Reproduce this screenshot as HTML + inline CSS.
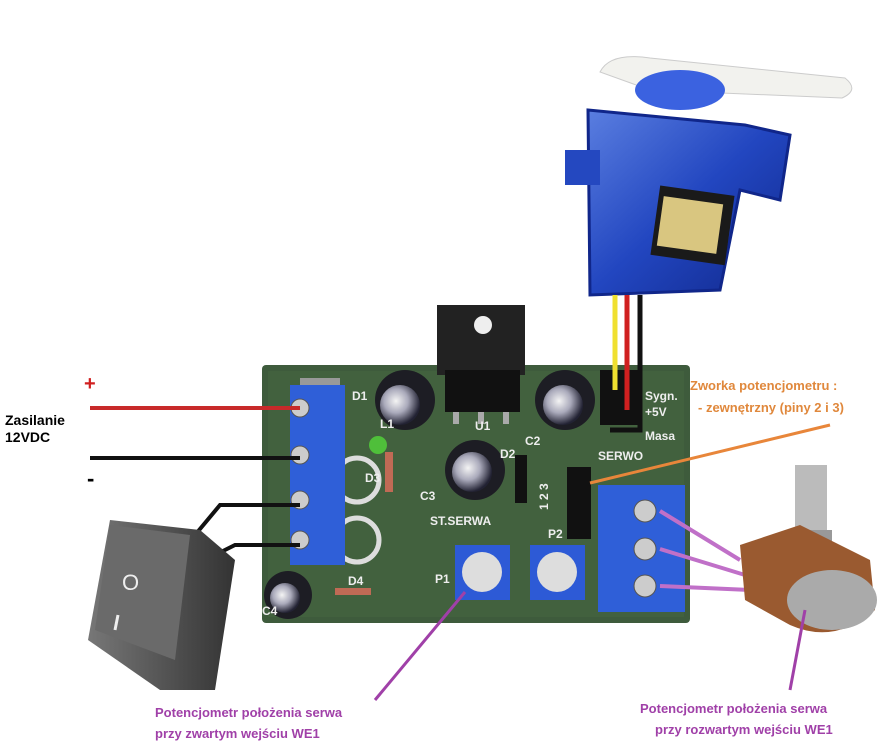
<!DOCTYPE html>
<html><head><meta charset="utf-8"><style>
html,body{margin:0;padding:0;background:#fff;}
body{width:883px;height:755px;overflow:hidden;position:relative;font-family:"Liberation Sans",sans-serif;}
.t{position:absolute;font-weight:bold;white-space:nowrap;}
</style></head><body>
<svg width="883" height="755" style="position:absolute;left:0;top:0">
<defs>
<radialGradient id="cap" cx="40%" cy="40%" r="60%"><stop offset="0" stop-color="#f4f4f4"/><stop offset="0.5" stop-color="#aab"/><stop offset="1" stop-color="#223"/></radialGradient>
<linearGradient id="blue" x1="0" y1="0" x2="1" y2="1"><stop offset="0" stop-color="#5a7ee0"/><stop offset="0.5" stop-color="#2246c0"/><stop offset="1" stop-color="#10278a"/></linearGradient>
<linearGradient id="sw" x1="0" y1="0" x2="1" y2="0"><stop offset="0" stop-color="#777"/><stop offset="0.5" stop-color="#555"/><stop offset="1" stop-color="#333"/></linearGradient>
</defs>
<rect x="262" y="365" width="428" height="258" rx="4" fill="#3e5b3c"/>
<rect x="268" y="371" width="416" height="246" fill="#46653f" opacity="0.6"/>
<rect x="437" y="305" width="88" height="70" fill="#222"/>
<circle cx="483" cy="325" r="9" fill="#eee"/>
<rect x="445" y="370" width="75" height="42" fill="#111"/>
<rect x="453" y="412" width="6" height="12" fill="#aaa"/><rect x="478" y="412" width="6" height="12" fill="#aaa"/><rect x="503" y="412" width="6" height="12" fill="#aaa"/>
<circle cx="405" cy="400" r="30" fill="#1d1d24"/><circle cx="400" cy="405" r="20" fill="url(#cap)"/>
<circle cx="565" cy="400" r="30" fill="#1d1d24"/><circle cx="563" cy="405" r="20" fill="url(#cap)"/>
<circle cx="475" cy="470" r="30" fill="#1d1d24"/><circle cx="472" cy="472" r="20" fill="url(#cap)"/>
<circle cx="288" cy="595" r="24" fill="#1d1d24"/><circle cx="285" cy="598" r="15" fill="url(#cap)"/>
<circle cx="378" cy="445" r="9" fill="#4fbf3a"/>
<rect x="300" y="378" width="40" height="7" fill="#999"/>
<rect x="385" y="452" width="8" height="40" fill="#c06a55"/>
<rect x="515" y="455" width="12" height="48" fill="#111"/>
<rect x="335" y="588" width="36" height="7" fill="#c06a55"/>
<circle cx="357" cy="480" r="22" fill="none" stroke="#ddd" stroke-width="5"/>
<circle cx="357" cy="540" r="22" fill="none" stroke="#ddd" stroke-width="5"/>
<rect x="290" y="385" width="55" height="180" fill="#2f5fd8"/>
<g fill="#ccc" stroke="#555"><circle cx="300" cy="408" r="9"/><circle cx="300" cy="455" r="9"/><circle cx="300" cy="500" r="9"/><circle cx="300" cy="540" r="9"/></g>
<rect x="598" y="485" width="87" height="127" fill="#2f5fd8"/>
<g fill="#ccc" stroke="#555"><circle cx="645" cy="511" r="11"/><circle cx="645" cy="549" r="11"/><circle cx="645" cy="586" r="11"/></g>
<rect x="567" y="467" width="24" height="72" fill="#111"/>
<rect x="600" y="370" width="42" height="55" fill="#111"/>
<rect x="455" y="545" width="55" height="55" fill="#2d5ad6"/><circle cx="482" cy="572" r="20" fill="#ddd"/>
<rect x="530" y="545" width="55" height="55" fill="#2d5ad6"/><circle cx="557" cy="572" r="20" fill="#ddd"/>
<g fill="#eee" font-family="Liberation Sans" font-size="12" font-weight="bold">
<text x="352" y="400">D1</text><text x="380" y="428">L1</text><text x="365" y="482">D3</text><text x="420" y="500">C3</text>
<text x="475" y="430">U1</text><text x="525" y="445">C2</text><text x="500" y="458">D2</text><text x="430" y="525">ST.SERWA</text>
<text x="548" y="538">P2</text><text x="435" y="583">P1</text><text x="348" y="585">D4</text><text x="262" y="615">C4</text>
<text x="645" y="400">Sygn.</text><text x="645" y="416">+5V</text><text x="645" y="440">Masa</text><text x="598" y="460">SERWO</text>
<text x="548" y="510" transform="rotate(-90 548 510)">1 2 3</text>
</g>
<path d="M600 72 Q610 52 650 58 L845 78 Q860 90 842 98 L650 90 Z" fill="#f2f2ee" stroke="#ccc"/>
<ellipse cx="680" cy="90" rx="45" ry="20" fill="#3b62e0"/>
<path d="M588 110 L745 125 L790 135 L780 200 L740 190 L720 290 L590 295 Z" fill="url(#blue)" stroke="#10268a" stroke-width="3"/>
<path d="M565 150 L600 150 L600 185 L565 185 Z" fill="#2448c0"/>
<rect x="655" y="190" width="75" height="70" fill="#1a1a1a" transform="rotate(8 690 225)"/>
<rect x="660" y="200" width="60" height="50" fill="#d9c680" transform="rotate(8 690 225)"/>
<line x1="615" y1="295" x2="615" y2="390" stroke="#f0e030" stroke-width="5"/>
<line x1="627" y1="295" x2="627" y2="410" stroke="#d02020" stroke-width="5"/>
<polyline points="640,295 640,430 610,430" fill="none" stroke="#111" stroke-width="5"/>
<line x1="90" y1="408" x2="300" y2="408" stroke="#c82a2a" stroke-width="4"/>
<line x1="90" y1="458" x2="300" y2="458" stroke="#111" stroke-width="4"/>
<polyline points="195,535 220,505 300,505" fill="none" stroke="#111" stroke-width="4"/>
<polyline points="215,555 235,545 300,545" fill="none" stroke="#111" stroke-width="4"/>
<path d="M110 520 L200 530 L235 560 L215 690 L160 690 L88 640 Z" fill="url(#sw)"/>
<path d="M110 525 L190 535 L175 660 L95 630 Z" fill="#6a6a6a"/>
<text x="122" y="590" fill="#eee" font-size="22" font-family="Liberation Sans">O</text>
<line x1="118" y1="615" x2="115" y2="630" stroke="#eee" stroke-width="3"/>
<line x1="660" y1="511" x2="740" y2="560" stroke="#c070c8" stroke-width="4"/>
<line x1="660" y1="549" x2="745" y2="575" stroke="#c070c8" stroke-width="4"/>
<line x1="660" y1="586" x2="750" y2="590" stroke="#c070c8" stroke-width="4"/>
<rect x="795" y="465" width="32" height="75" fill="#bbb"/>
<rect x="790" y="530" width="42" height="30" fill="#999"/>
<path d="M740 545 L800 525 L870 560 L875 610 Q835 645 790 625 L745 600 Z" fill="#9a5a30"/>
<ellipse cx="832" cy="600" rx="45" ry="30" fill="#aaa"/>
<line x1="590" y1="483" x2="830" y2="425" stroke="#e8863a" stroke-width="3"/>
<line x1="375" y1="700" x2="465" y2="592" stroke="#a040a8" stroke-width="3"/>
<line x1="790" y1="690" x2="805" y2="610" stroke="#a040a8" stroke-width="3"/>
</svg>
<div class="t" style="left:84px;top:373px;color:#d02020;font-size:20px">+</div>
<div class="t" style="left:5px;top:412px;font-size:14px;line-height:17px">Zasilanie<br>12VDC</div>
<div class="t" style="left:87px;top:466px;font-size:22px">-</div>
<div class="t" style="left:690px;top:378px;color:#e0883c;font-size:13px">Zworka potencjometru :</div>
<div class="t" style="left:698px;top:400px;color:#e0883c;font-size:13px">- zewnętrzny (piny 2 i 3)</div>
<div class="t" style="left:155px;top:705px;color:#a040a8;font-size:13px">Potencjometr położenia serwa</div>
<div class="t" style="left:155px;top:726px;color:#a040a8;font-size:13px">przy zwartym wejściu WE1</div>
<div class="t" style="left:640px;top:701px;color:#a040a8;font-size:13px">Potencjometr położenia serwa</div>
<div class="t" style="left:655px;top:722px;color:#a040a8;font-size:13px">przy rozwartym wejściu WE1</div>
</body></html>
